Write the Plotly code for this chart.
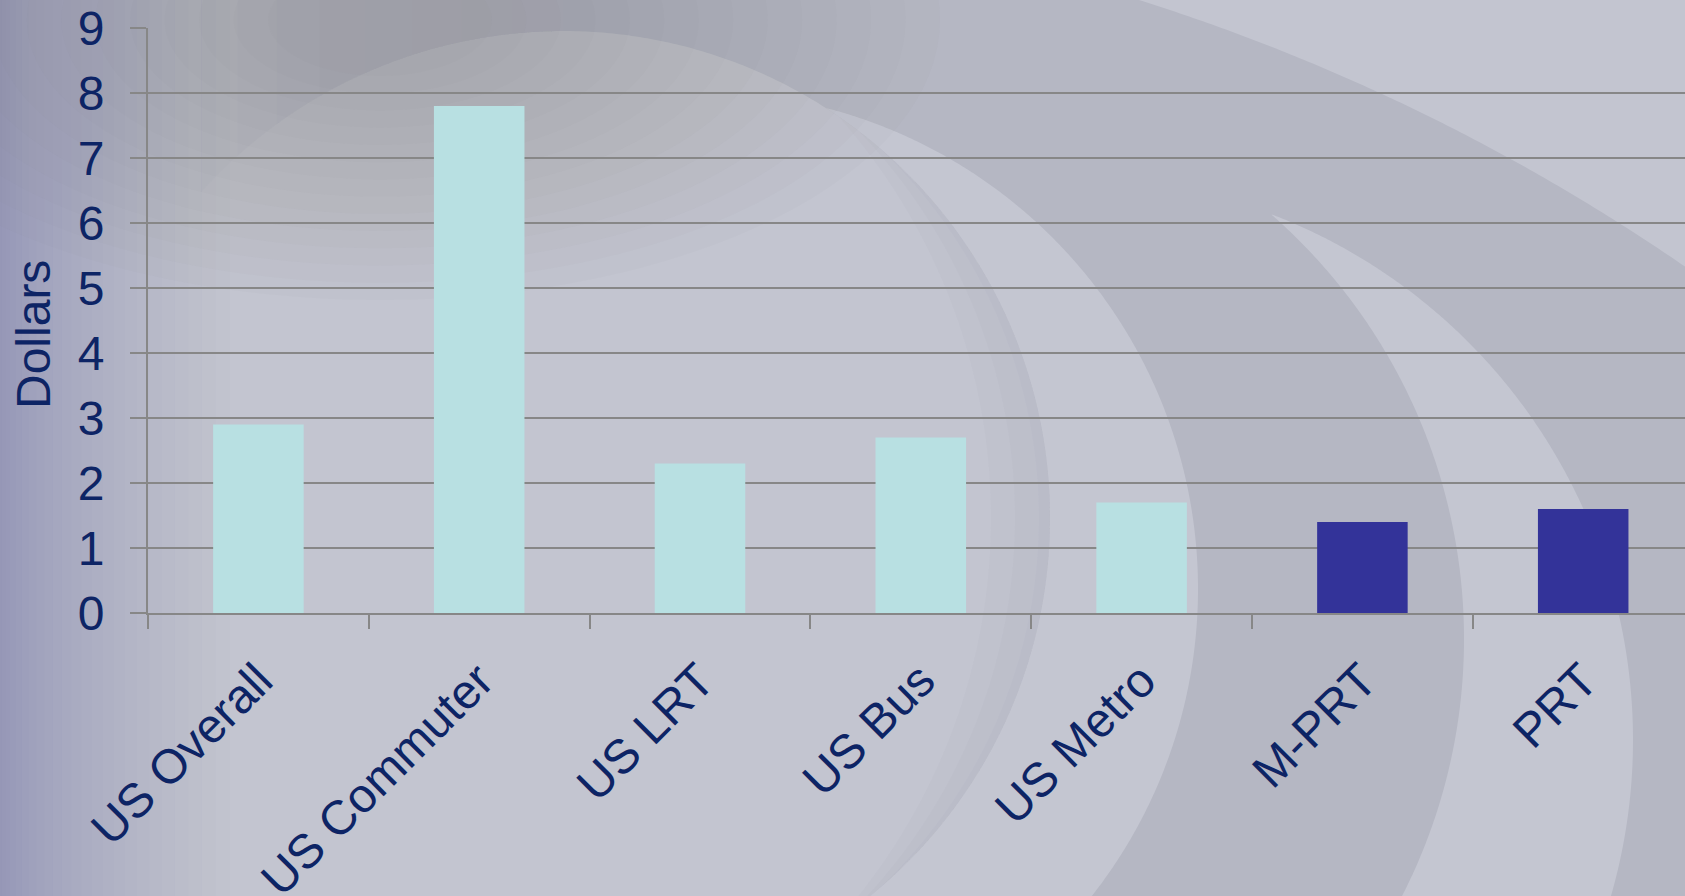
import numpy as np
import plotly.graph_objects as go

# ---------------- data ----------------
categories = ["US Overall", "US Commuter", "US LRT", "US Bus", "US Metro", "M-PRT", "PRT"]
values = [2.9, 7.8, 2.3, 2.7, 1.7, 1.4, 1.6]
y_tick_values = [0, 1, 2, 3, 4, 5, 6, 7, 8, 9]
y_title = "Dollars"

# ---------------- style ----------------
bar_colors = ["#B8E0E2", "#B8E0E2", "#B8E0E2", "#B8E0E2", "#B8E0E2", "#333399", "#333399"]
TEXT = "#0D2465"
GRID = "#878787"
FONT = "Liberation Sans, Arial, sans-serif"
FS = 48

W, H = 1685, 896
ML, MR, MT, MB = 148, 0, 28, 283
PW, PH = W - ML - MR, H - MT - MB


def to_paper(x, y):
    return (x - ML) / PW, (H - MB - y) / PH


def circle_pts(c, n=1440):
    cx, cy, r = c
    t = np.linspace(0, 2 * np.pi, n, endpoint=False)
    return np.c_[cx + r * np.cos(t), cy + r * np.sin(t)]


def inside(P, c):
    cx, cy, r = c
    return (P[:, 0] - cx) ** 2 + (P[:, 1] - cy) ** 2 < r ** 2


def run_of(mask):
    n = len(mask)
    s = [i for i in range(n) if mask[i] and not mask[i - 1]][0]
    idx = []
    i = s
    while mask[i % n] and len(idx) < n:
        idx.append(i % n)
        i += 1
    return idx


def crescent(outer, inner):
    P = circle_pts(outer)
    Q = circle_pts(inner)
    a = P[run_of(~inside(P, inner))]
    b = Q[run_of(inside(Q, outer))]
    if np.hypot(*(a[-1] - b[0])) > np.hypot(*(a[-1] - b[-1])):
        b = b[::-1]
    return np.vstack([a, b])


def path_of(*polys):
    parts = []
    for pts in polys:
        coords = [to_paper(x, y) for x, y in pts]
        parts.append("M " + " L ".join(f"{u:.5f},{v:.5f}" for u, v in coords) + " Z")
    return " ".join(parts)


C1 = (563, 518, 487)
C2 = (701, 589, 497)
C3 = (900, 639, 564)
C4 = (1070, 740, 563)
C5 = (522, 1956, 2051)

shapes = []


def add_path(p, fill):
    shapes.append(dict(type="path", path=p, xref="paper", yref="paper",
                       fillcolor=fill, line=dict(width=0), layer="below"))


# dark zone on the right: outside C1, inside C5
cx1, cy1, r1 = C1
cx5, cy5, r5 = C5
t = np.linspace(-np.pi / 2, np.pi / 2, 400)
c1_right = np.c_[cx1 + r1 * np.cos(t), cy1 + r1 * np.sin(t)]
xs = np.linspace(2400, cx1, 400)
c5_top = np.c_[xs, cy5 - np.sqrt(np.clip(r5 ** 2 - (xs - cx5) ** 2, 0, None))]
dark_poly = np.vstack([c1_right, [[cx1, 1200], [2400, 1200]], c5_top])
add_path(path_of(dark_poly), "#B5B7C3")
# feathered continuation over the top of C1 towards the left
for deg in range(-96, -140, -6):
    tt = np.linspace(np.radians(deg), -np.pi / 2, 60)
    arc = np.c_[cx1 + r1 * np.cos(tt), cy1 + r1 * np.sin(tt)]
    poly = np.vstack([arc, [[cx1, -80], [arc[0, 0], -80]]])
    add_path(path_of(poly), "rgba(181,183,195,0.16)")

# soft shading along the inner right rim of C1
for rr in [476, 452, 428]:
    add_path(path_of(crescent(C1, (cx1 - (r1 - rr) * 3.0, cy1, r1 + (r1 - rr) * 2.0))),
             "rgba(150,152,170,0.06)")

# light swooshes
add_path(path_of(crescent(C2, C1)), "#C4C6D1")
add_path(path_of(crescent(C4, C3)), "#C4C6D1")

# left edge darkening (smooth)
N = 24
for k in range(1, N + 1):
    xw = 230 * (k / N) ** 1.5
    x0, _ = to_paper(-5, 0)
    x1, _ = to_paper(xw, 0)
    shapes.append(dict(type="rect", xref="paper", yref="paper", x0=x0, x1=x1,
                       y0=to_paper(0, H + 5)[1], y1=to_paper(0, -5)[1],
                       fillcolor="rgba(125,127,140,0.02)", line=dict(width=0), layer="below"))
# top-left dark haze (smooth)
for s in np.linspace(1.0, 0.2, 14):
    cx, cy, rx, ry = 380, 20, 560 * s, 280 * s
    x0, y1 = to_paper(cx - rx, cy - ry)
    x1, y0 = to_paper(cx + rx, cy + ry)
    shapes.append(dict(type="circle", xref="paper", yref="paper", x0=x0, x1=x1, y0=y0, y1=y1,
                       fillcolor="rgba(125,127,142,0.032)", line=dict(width=0), layer="below"))

fig = go.Figure()
fig.add_trace(go.Bar(
    x=categories, y=values,
    marker=dict(color=bar_colors, line=dict(width=0)),
    width=0.41,
    hoverinfo="x+y",
))

fig.update_layout(
    width=W, height=H,
    margin=dict(l=ML, r=MR, t=MT, b=MB, pad=0, autoexpand=False),
    paper_bgcolor="#C3C5D0",
    plot_bgcolor="rgba(0,0,0,0)",
    font=dict(family=FONT, color=TEXT, size=FS),
    showlegend=False,
    shapes=shapes,
    annotations=[dict(text=y_title, textangle=-90, xref="paper", yref="paper",
                      x=to_paper(33, 0)[0], y=to_paper(0, 335)[1],
                      xanchor="center", yanchor="middle", showarrow=False,
                      font=dict(family=FONT, color=TEXT, size=FS))],
)

n = len(categories)
fig.update_xaxes(
    type="category", automargin=False,
    range=[-0.5, n - 0.5 - (1693.6 - 1685) / 220.8],
    showline=True, linecolor=GRID, linewidth=2,
    ticks="outside", tickson="boundaries", ticklen=14, tickwidth=2, tickcolor=GRID,
    tickangle=-45, tickfont=dict(family=FONT, color=TEXT, size=FS),
    ticklabelstandoff=18,
    showgrid=False, zeroline=False,
)
fig.update_yaxes(
    range=[0, 9], automargin=False,
    tickmode="array", tickvals=y_tick_values, ticktext=[str(v) for v in y_tick_values],
    showline=True, linecolor=GRID, linewidth=2,
    ticks="outside", ticklen=16, tickwidth=2, tickcolor=GRID,
    showgrid=True, gridcolor=GRID, gridwidth=2,
    zeroline=False,
    tickfont=dict(family=FONT, color=TEXT, size=FS),
    ticklabelstandoff=16,
)

fig.write_html("out.html", post_script="document.body.style.margin='0';")
